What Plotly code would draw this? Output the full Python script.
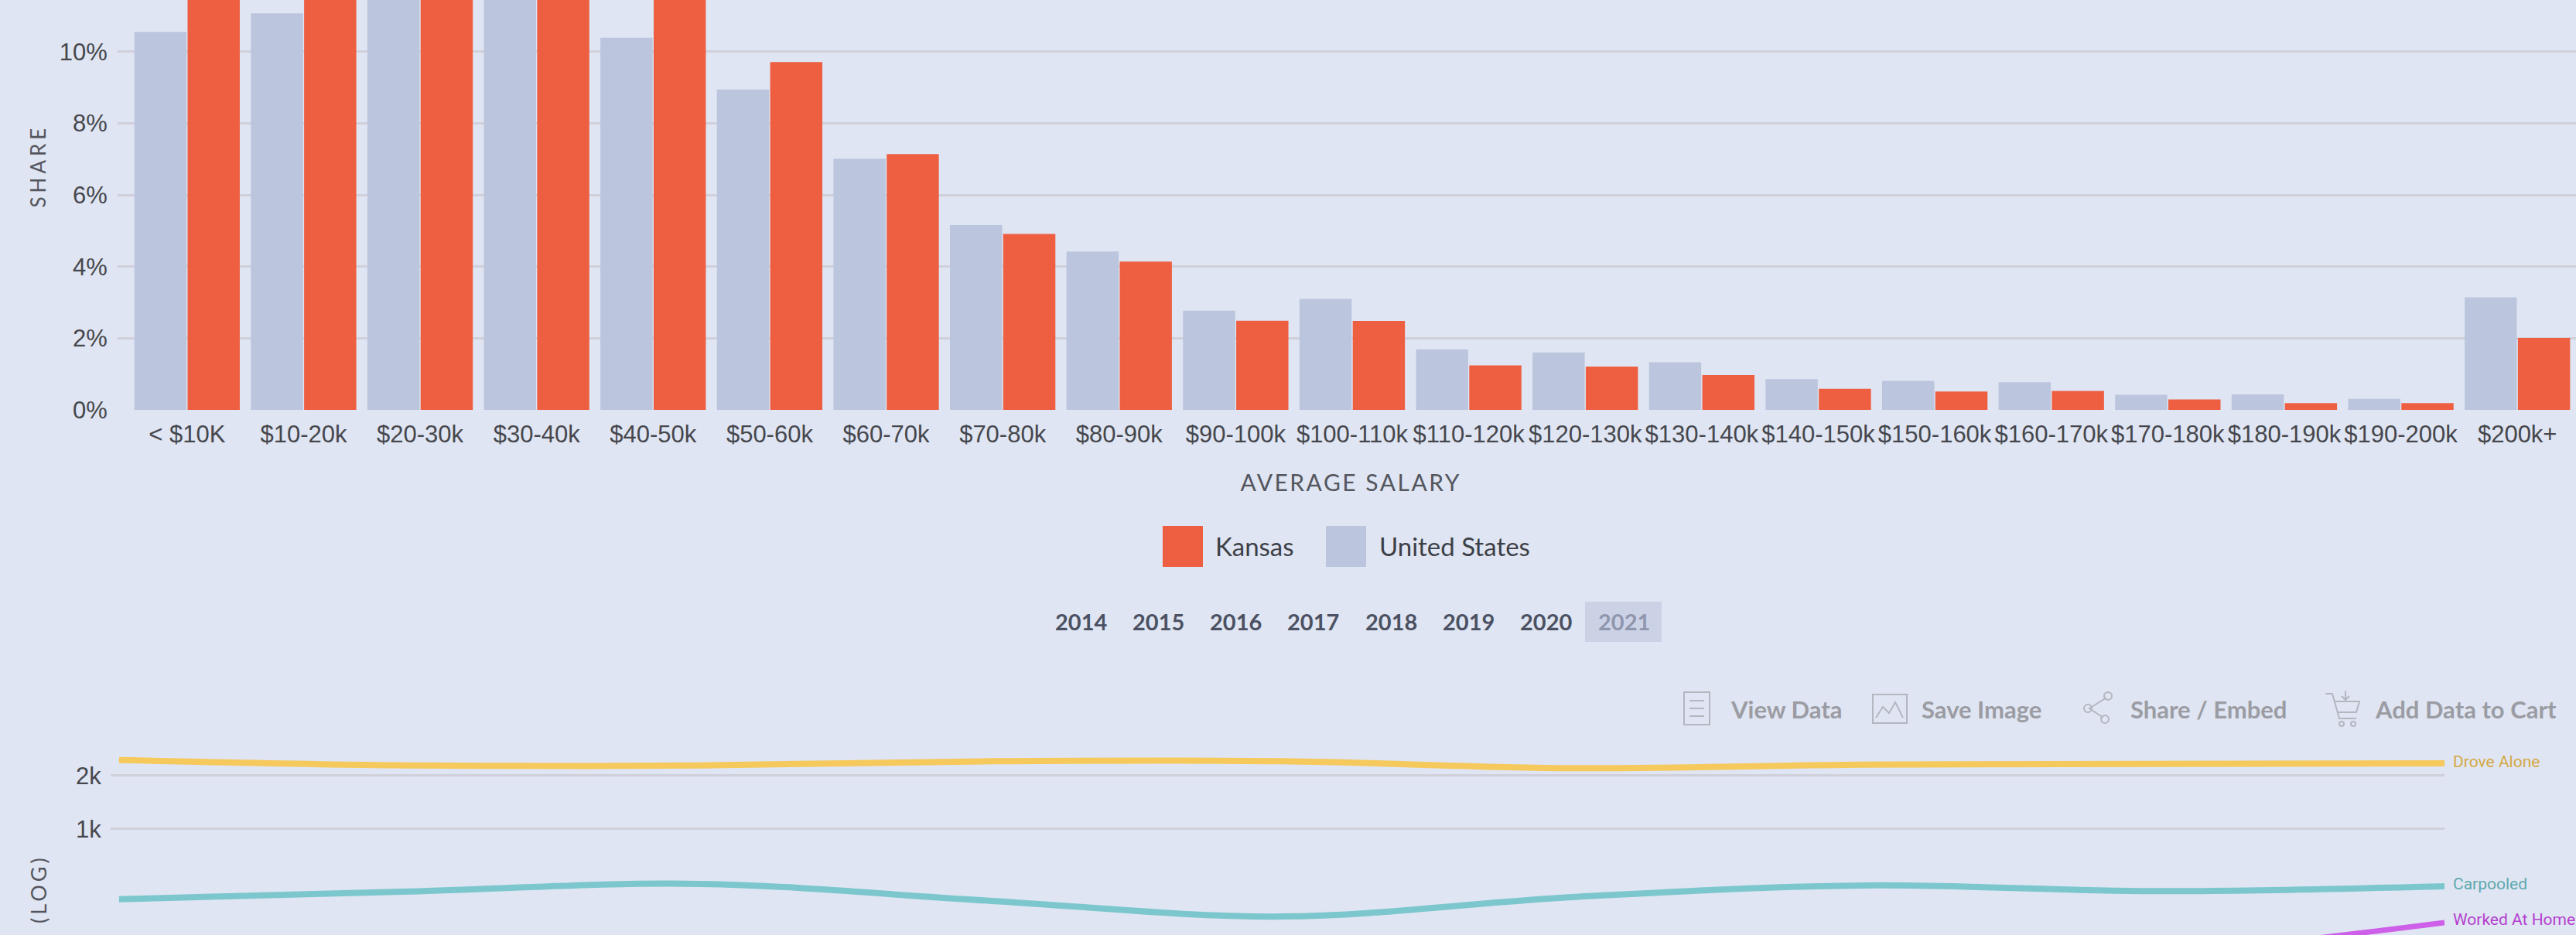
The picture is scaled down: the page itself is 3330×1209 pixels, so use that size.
"""Kansas salary distribution bars above a commute mode line chart (log scale)."""

import math

import plotly.graph_objects as go

WIDTH = 3330
HEIGHT = 1209

# Salary chart
salary_bins = ["< $10K", "$10-20k", "$20-30k", "$30-40k", "$40-50k", "$50-60k", "$60-70k",
               "$70-80k", "$80-90k", "$90-100k", "$100-110k", "$110-120k", "$120-130k",
               "$130-140k", "$140-150k", "$150-160k", "$160-170k", "$170-180k",
               "$180-190k", "$190-200k", "$200k+"]
us_share = [10.55, 11.07, 11.9, 11.6, 10.39, 8.94, 7.01, 5.16, 4.42, 2.77, 3.10,
            1.69, 1.60, 1.33, 0.86, 0.81, 0.77, 0.42, 0.43, 0.31, 3.14]
kansas_share = [12.3, 13.0, 13.2, 12.5, 11.8, 9.71, 7.14, 4.91, 4.14, 2.49, 2.48,
                1.24, 1.21, 0.97, 0.59, 0.51, 0.53, 0.29, 0.19, 0.19, 2.01]
share_ticks = [0, 2, 4, 6, 8, 10]
share_tick_labels = ["0%", "2%", "4%", "6%", "8%", "10%"]

salary_years = ["2014", "2015", "2016", "2017", "2018", "2019", "2020", "2021"]

# Commute chart
commute_years = [2013, 2014, 2015, 2016, 2017, 2018, 2019, 2020, 2021]
drove_alone = [2445, 2279, 2279, 2406, 2406, 2198, 2302, 2325, 2342]
carpooled = [401, 443, 489, 392, 320, 412, 479, 445, 474]
worked_at_home = [120, 125, 130, 135, 140, 145, 160, 194, 296]
commute_ticks = [1000, 2000]
commute_tick_labels = ["1k", "2k"]

BG = "#dfe5f2"
GRID = "#d0d0da"
KANSAS = "#ee5f42"
US = "#bbc5dd"
TICK = "#46474d"
TOOL = "#9b9ca3"
HUMANIST = "Lato, sans-serif"


def px(x):
    return x / WIDTH


def py(y):
    return 1 - y / HEIGHT


def path(points, close=False):
    """SVG path in paper coordinates from pixel points."""
    d = "M" + " L".join(f"{px(x):.5f},{py(y):.5f}" for x, y in points)
    return d + (" Z" if close else "")


fig = go.Figure()

fig.add_trace(go.Bar(x=list(range(len(salary_bins))), y=us_share, name="United States",
                     marker_color=US, marker_line_width=0))
fig.add_trace(go.Bar(x=list(range(len(salary_bins))), y=kansas_share, name="Kansas",
                     marker_color=KANSAS, marker_line_width=0))

commute_series = [
    ("Drove Alone", drove_alone, "#f6c95c", "#d5a944", 8),
    ("Carpooled", carpooled, "#7cc7cd", "#5ea9ae", 8),
    ("Worked At Home", worked_at_home, "#cd5fe8", "#b53fd0", 7),
]
for name, values, color, _, line_width in commute_series:
    fig.add_trace(go.Scatter(
        x=commute_years, y=values, mode="lines", name=name, xaxis="x2", yaxis="y2",
        line=dict(color=color, width=line_width, shape="spline", smoothing=1.0),
        cliponaxis=False
    ))

annotations = []

# Direct labels at the end of the commute lines
label_offsets = {"Drove Alone": 2, "Carpooled": 3, "Worked At Home": 4}
for name, values, _, label_color, _ in commute_series:
    annotations.append(dict(
        x=commute_years[-1], y=math.log10(values[-1]), xref="x2", yref="y2", text=name,
        showarrow=False, xanchor="left", yanchor="middle", xshift=9, yshift=label_offsets[name],
        font=dict(family="Roboto, sans-serif", size=21, color=label_color)
    ))

# Axis titles, the real axes run past the crop
annotations.append(dict(x=px(49), y=py(215), xref="paper", yref="paper", text="SHARE",
                        textangle=-90, showarrow=False, xanchor="center", yanchor="middle",
                        font=dict(family=HUMANIST, size=26, color="#54565e")))
annotations.append(dict(x=px(49), y=py(1150), xref="paper", yref="paper", text="(LOG)",
                        textangle=-90, showarrow=False, xanchor="center", yanchor="middle",
                        font=dict(family=HUMANIST, size=27, color="#54565e")))
annotations.append(dict(x=px(1746), y=py(623), xref="paper", yref="paper", text="AVERAGE SALARY",
                        showarrow=False, xanchor="center", yanchor="middle",
                        font=dict(family=HUMANIST, size=30, color="#54565e")))

# Legend
shapes = []
for name, color, swatch_left, text_left in [("Kansas", KANSAS, 1503, 1569),
                                            ("United States", US, 1714, 1781)]:
    shapes.append(dict(type="rect", xref="paper", yref="paper", layer="above",
                       x0=px(swatch_left), x1=px(swatch_left + 52), y0=py(680), y1=py(733),
                       fillcolor=color, line_width=0))
    annotations.append(dict(x=px(text_left), y=py(706), xref="paper", yref="paper", text=name,
                            showarrow=False, xanchor="left", yanchor="middle",
                            font=dict(family=HUMANIST, size=33, color="#3d3f47")))

# Year selector
shapes.append(dict(type="rect", xref="paper", yref="paper", x0=px(2049), x1=px(2148),
                   y0=py(778), y1=py(830), fillcolor="#ccd2e6", line_width=0))
for i, year in enumerate(salary_years):
    annotations.append(dict(
        x=px(1397 + i * 100.3), y=py(804), xref="paper", yref="paper", text=year,
        showarrow=False, xanchor="center", yanchor="middle",
        font=dict(family=HUMANIST, size=29, weight="bold",
                  color="#8f96ad" if year == "2021" else "#4b5162")
    ))

# Toolbar
for label, left in [("View Data", 2235), ("Save Image", 2482),
                    ("Share / Embed", 2752), ("Add Data to Cart", 3068)]:
    annotations.append(dict(x=px(left), y=py(917), xref="paper", yref="paper", text=label,
                            showarrow=False, xanchor="left", yanchor="middle",
                            font=dict(family=HUMANIST, size=31, weight="bold", color=TOOL)))

icon_line = dict(color="#b4b6c0", width=2)
icon_paths = [
    # document
    path([(2177, 895), (2210, 895), (2210, 937), (2177, 937)], close=True),
    path([(2184, 906), (2203, 906)]),
    path([(2184, 916), (2203, 916)]),
    path([(2184, 926), (2203, 926)]),
    # image
    path([(2421, 898), (2465, 898), (2465, 935), (2421, 935)], close=True),
    path([(2425, 928), (2434, 914), (2442, 922), (2450, 908), (2460, 928)]),
    # share
    path([(2723, 902), (2701, 916), (2719, 928)]),
    # cart
    path([(3006, 897), (3015, 897), (3024, 929), (3046, 929)]),
    path([(3017, 907), (3050, 907), (3046, 921), (3021, 921)]),
    path([(3032, 893), (3032, 905)]),
    path([(3027, 900), (3032, 905), (3037, 900)]),
]
for d in icon_paths:
    shapes.append(dict(type="path", xref="paper", yref="paper", path=d, line=icon_line))
for cx, cy in [(2725, 900), (2699, 916), (2721, 930)]:
    shapes.append(dict(type="circle", xref="paper", yref="paper", x0=px(cx - 5), x1=px(cx + 5),
                       y0=py(cy - 5), y1=py(cy + 5), line=icon_line))
for cx in [3027, 3042]:
    shapes.append(dict(type="circle", xref="paper", yref="paper", x0=px(cx - 3), x1=px(cx + 3),
                       y0=py(933), y1=py(939), line=icon_line))

fig.update_layout(
    width=WIDTH,
    height=HEIGHT,
    margin=dict(l=0, r=0, t=0, b=0, autoexpand=False),
    paper_bgcolor=BG,
    plot_bgcolor=BG,
    showlegend=False,
    barmode="group",
    bargap=0.086,
    bargroupgap=0.02,
    annotations=annotations,
    shapes=shapes,
    xaxis=dict(
        domain=[px(152), px(3329.5)],
        anchor="y",
        automargin=False,
        range=[-0.5963, 20.5],
        tickmode="array",
        tickvals=list(range(len(salary_bins))),
        ticktext=salary_bins,
        tickangle=0,
        tickfont=dict(family="Liberation Sans, sans-serif", size=31, color=TICK),
        ticks="outside",
        ticklen=4,
        tickcolor="rgba(0,0,0,0)",
        showgrid=False,
        zeroline=False,
        showline=False,
    ),
    yaxis=dict(
        domain=[py(530), 1],
        anchor="x",
        automargin=False,
        range=[0, 11.44],
        tickmode="array",
        tickvals=share_ticks,
        ticktext=share_tick_labels,
        tickfont=dict(family="Liberation Sans, sans-serif", size=31, color=TICK),
        ticks="outside",
        ticklen=6,
        tickcolor="rgba(0,0,0,0)",
        gridcolor=GRID,
        gridwidth=3,
        zeroline=False,
        showline=False,
    ),
    xaxis2=dict(
        domain=[px(143), px(3160)],
        anchor="y2",
        automargin=False,
        range=[2012.971, 2021],
        showticklabels=False,
        ticks="",
        showgrid=False,
        zeroline=False,
        showline=False,
    ),
    yaxis2=dict(
        domain=[0, py(950)],
        anchor="x2",
        automargin=False,
        type="log",
        range=[2.4009, 3.5309],
        tickmode="array",
        tickvals=commute_ticks,
        ticktext=commute_tick_labels,
        tickfont=dict(family="Liberation Sans, sans-serif", size=31, color=TICK),
        ticks="outside",
        ticklen=5,
        tickcolor="rgba(0,0,0,0)",
        gridcolor=GRID,
        gridwidth=3,
        zeroline=False,
        showline=False,
    ),
)

# Page flush with the window, tracked capitals on the axis titles
post_script = """
document.body.style.margin = '0';
document.body.style.background = '%s';
document.body.style.overflow = 'hidden';
document.querySelectorAll('svg text').forEach(function (t) {
    var s = t.textContent;
    if (s === 'SHARE') { t.style.letterSpacing = '5px'; }
    if (s === '(LOG)') { t.style.letterSpacing = '4px'; }
    if (s === 'AVERAGE SALARY') { t.style.letterSpacing = '2.5px'; }
});
""" % BG

fig.write_html("out.html", post_script=post_script, config=dict(displayModeBar=False))
